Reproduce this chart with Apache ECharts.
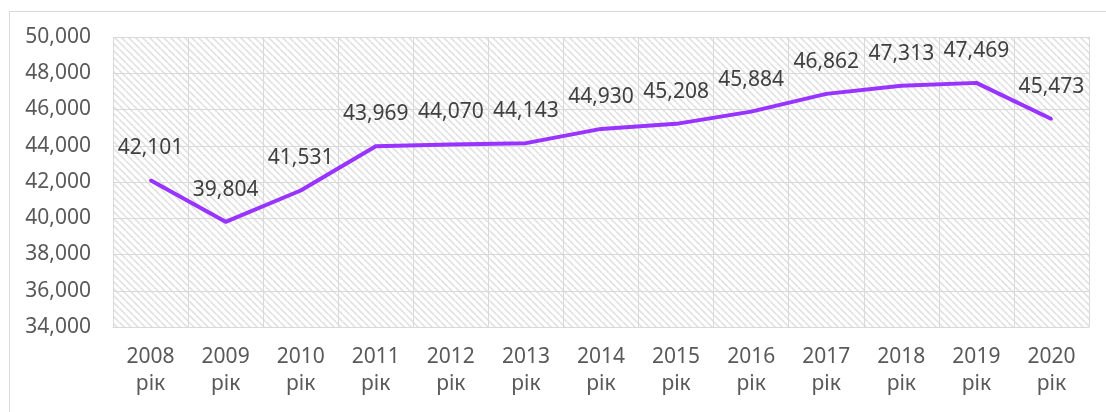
<!DOCTYPE html>
<html>
<head>
<meta charset="utf-8">
<script src="https://cdn.jsdelivr.net/npm/echarts@6/dist/echarts.min.js"></script>
<style>
html,body{margin:0;padding:0;background:#fff;}
#chart{width:1106px;height:412px;}
</style>
</head>
<body>
<div id="chart"></div>
<script>
const years = ['2008','2009','2010','2011','2012','2013','2014','2015','2016','2017','2018','2019','2020'];
const categories = years.map(y => y + '\nрік');
const values = [42101, 39804, 41531, 43969, 44070, 44143, 44930, 45208, 45884, 46862, 47313, 47469, 45473];
const yMin = 34000, yMax = 50000, yStep = 2000;

// hatch pattern
const s = 7;
const cv = document.createElement('canvas');
cv.width = s; cv.height = s;
const cx = cv.getContext('2d');
cx.fillStyle = '#ffffff';
cx.fillRect(0,0,s,s);
cx.strokeStyle = '#e2e2e2';
cx.lineWidth = 1.7;
for (const k of [-s, 0, s]) {
  cx.beginPath(); cx.moveTo(k, 0); cx.lineTo(k + s, s); cx.stroke();
}

const chart = echarts.init(document.getElementById('chart'), null, {renderer:'canvas'});
const font = '"Noto Sans", sans-serif';
chart.setOption({
  animation: false,
  backgroundColor: '#ffffff',
  graphic: [{
    type: 'rect', left: 7, top: 9, z: -10,
    shape: {width: 1120, height: 420},
    style: {fill: 'none', stroke: '#d9d9d9', lineWidth: 1}
  }],
  grid: {
    left: 113, right: 17, top: 37, bottom: 85,
    show: true,
    backgroundColor: {image: cv, repeat: 'repeat'},
    borderWidth: 0
  },
  xAxis: {
    type: 'category',
    data: categories,
    boundaryGap: true,
    axisLine: {show: true, lineStyle: {color: '#d9d9d9', width: 1}},
    axisTick: {show: false},
    splitLine: {show: true, interval: 0, lineStyle: {color: '#d9d9d9', width: 1}},
    axisLabel: {
      interval: 0, margin: 17, color: '#595959', fontFamily: font, fontSize: 21, lineHeight: 27
    }
  },
  yAxis: {
    type: 'value',
    min: yMin, max: yMax, interval: yStep,
    axisLine: {show: false},
    axisTick: {show: false},
    splitLine: {show: true, lineStyle: {color: '#d9d9d9', width: 1}},
    axisLabel: {
      margin: 22, color: '#595959', fontFamily: font, fontSize: 21,
      formatter: v => v.toLocaleString('en-US')
    }
  },
  series: [{
    type: 'line',
    data: values,
    showSymbol: true,
    symbol: 'circle',
    symbolSize: 3,
    lineStyle: {color: '#9933ff', width: 4, join: 'round'},
    itemStyle: {color: '#9933ff', borderWidth: 0},
    label: {
      show: true, position: 'top', distance: 20,
      color: '#404040', fontFamily: font, fontSize: 21,
      formatter: p => Number(p.value).toLocaleString('en-US')
    }
  }]
});
</script>
</body>
</html>
